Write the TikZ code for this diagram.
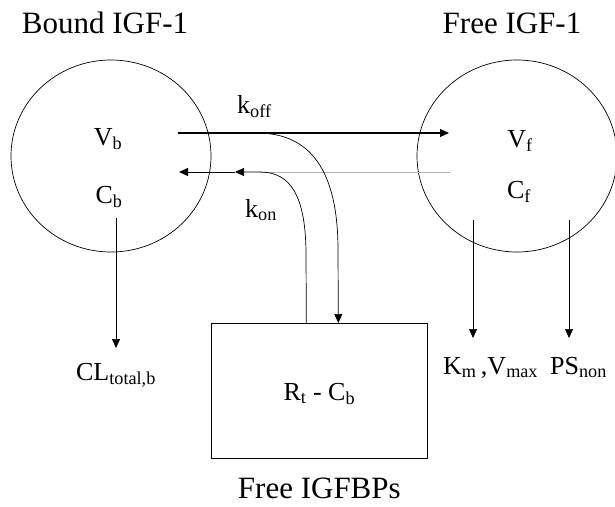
\documentclass[tikz,border=0pt]{standalone}
\usepackage{fontspec}
\setmainfont{Liberation Serif}
\usetikzlibrary{arrows.meta}
\begin{document}
\begin{tikzpicture}[x=1pt, y=-1pt,
    >={Triangle[length=9pt,width=8pt]},
    lbl/.style={font=\fontsize{26}{28}\selectfont, inner sep=0pt, anchor=base},
    title/.style={font=\fontsize{31}{33}\selectfont, inner sep=0pt, anchor=base},
    thinline/.style={line width=0.7pt},
    flow/.style={->, line width=0.7pt}]
    \useasboundingbox (0,0) rectangle (615,506);

    % compartments
    \draw[thinline] (111,156) ellipse (100 and 96);
    \draw[thinline] (517,156) ellipse (100 and 96);
    \node[draw, thinline, minimum width=216pt, minimum height=135pt, anchor=north west] (fbp) at (211,323) {};

    \node[title] (tbound) at (105,33) {Bound IGF-1};
    \node[title] (tfree) at (512,33) {Free IGF-1};
    \node[lbl] (vb) at (108,145) {V\textsubscript{b}};
    \node[lbl] (cb) at (109,203) {C\textsubscript{b}};
    \node[lbl] (vf) at (520,147) {V\textsubscript{f}};
    \node[lbl] (cf) at (519,198) {C\textsubscript{f}};
    \node[lbl] (rt) at (fbp.center |- 0,400) {R\textsubscript{t} - C\textsubscript{b}};
    \node[title] (tbp) at (fbp.center |- 0,498) {Free IGFBPs};

    % exchange
    \coordinate (offs) at (178,133);
    \coordinate (offe) at (449,133);
    \coordinate (offb) at (257,133);
    \coordinate (ons) at (450,172);
    \coordinate (onb) at (260,172);
    \coordinate (onm) at (235,172);
    \coordinate (one) at (179,172);
    \draw[->, line width=1.1pt] (offs) -- (offe);
    \draw[thinline, gray!60] (ons) -- (onb);
    \draw[flow] (offb) .. controls (310,133) and (338,170) .. (338,250) -- ([xshift=19pt]fbp.north);
    \draw[flow] ([xshift=-13pt]fbp.north) -- (306,255) .. controls (306,195) and (290,172) .. (onb) -- (onm);
    \draw[->, line width=1pt] (onm) -- (one);
    \node[lbl, anchor=base west] (koff) at (237,113) {k\textsubscript{off}};
    \node[lbl, anchor=base west] (kon) at (245,217) {k\textsubscript{on}};

    % elimination
    \coordinate (clb) at (116,218);
    \coordinate (kmf) at (473,220);
    \coordinate (psf) at (569,220);
    \node[lbl] (cl) at (116,380) {CL\textsubscript{total,b}};
    \node[lbl, anchor=base west] (km) at (443,374) {K\textsubscript{m}\,,V\textsubscript{max}};
    \node[lbl, anchor=base west] (ps) at (550,374) {PS\textsubscript{non}};
    \draw[flow] (clb) -- (116,348);
    \draw[flow] (kmf) -- (473,338);
    \draw[flow] (psf) -- (569,338);
\end{tikzpicture}
\end{document}
